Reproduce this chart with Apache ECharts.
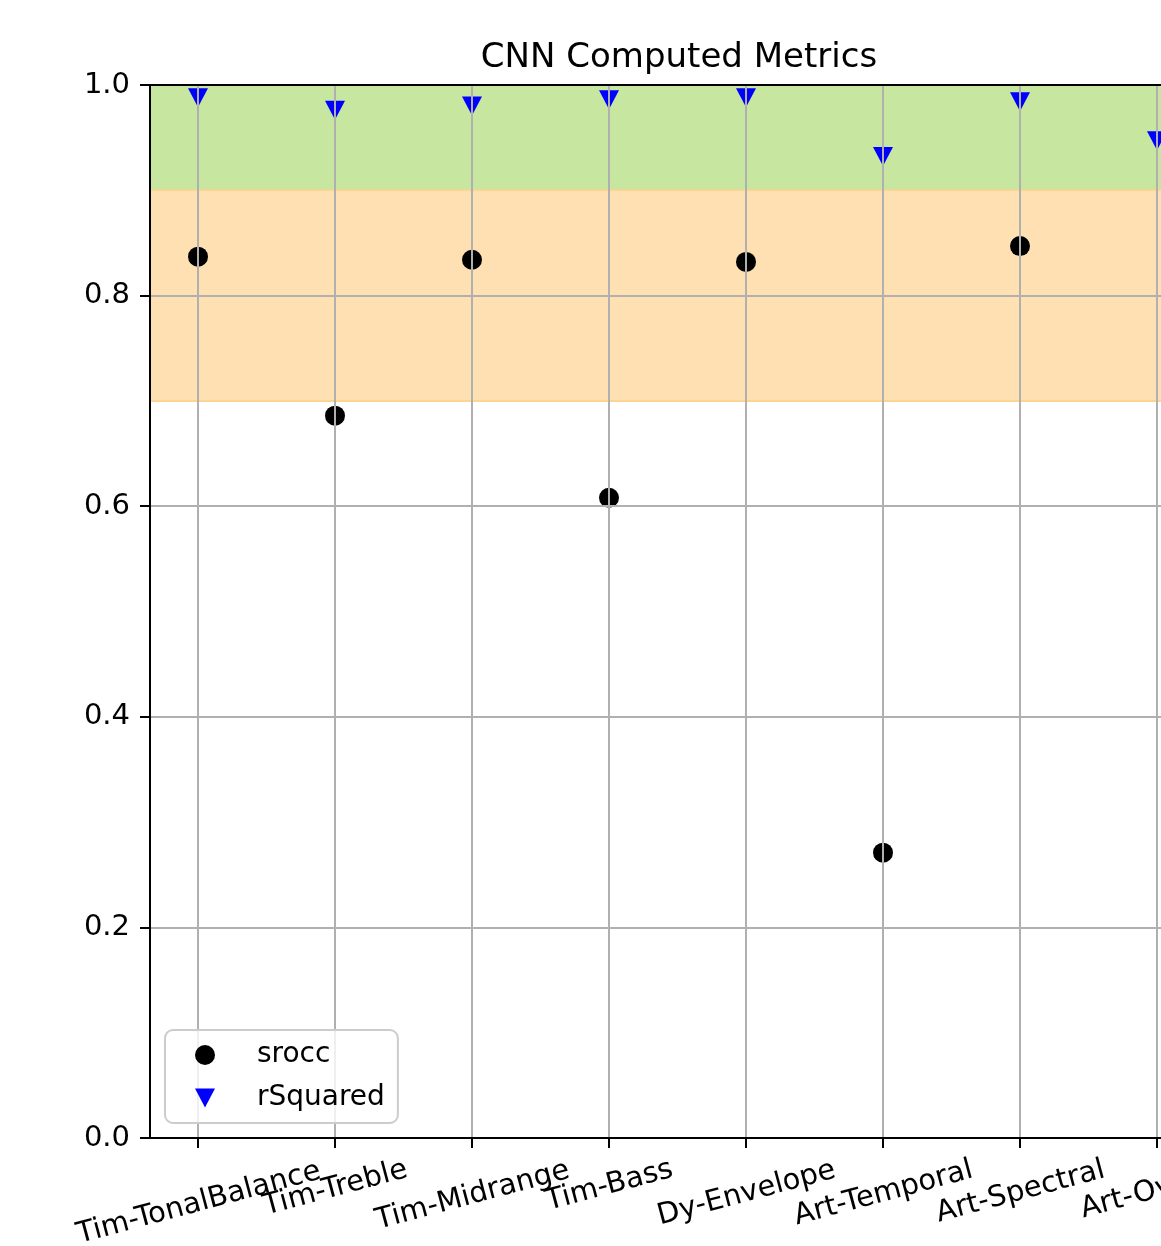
<!DOCTYPE html>
<html>
<head>
<meta charset="utf-8">
<title>CNN Computed Metrics</title>
<script src="https://cdn.jsdelivr.net/npm/echarts@6/dist/echarts.min.js"></script>
<style>
  html, body { margin: 0; padding: 0; overflow: hidden; background: #ffffff; }
  #chart { width: 1260px; height: 1246px; }
</style>
</head>
<body>
<div id="chart"></div>
<script>
// Metric categories along the x axis
const categories = [
  'Tim-TonalBalance', 'Tim-Treble', 'Tim-Midrange', 'Tim-Bass',
  'Dy-Envelope', 'Art-Temporal', 'Art-Spectral', 'Art-Overall'
];
// Spearman rank correlation per metric (last one not available)
const sroccValues = [0.837, 0.686, 0.834, 0.608, 0.832, 0.271, 0.847, null];
// Coefficient of determination per metric
const rSquaredValues = [0.988, 0.976, 0.980, 0.986, 0.988, 0.932, 0.984, 0.947];
// Quality bands shaded behind the points
const goodBand = [0.9, 1.0];
const fairBand = [0.7, 0.9];

const FONT = '"DejaVu Sans", "Liberation Sans", sans-serif';
const LABEL_SIZE = 29;
const LABEL_LINE = 33;
const ROT = 15;
const DOWN_TRIANGLE = 'path://M0,0 L20,0 L10,19 Z';

// Rotated x labels are centred under their ticks with the top of the
// rotated box just below the axis: longer labels rise higher at their
// right end, so they are pushed down in proportion to their width.
const measureCtx = document.createElement('canvas').getContext('2d');
measureCtx.font = LABEL_SIZE + 'px ' + FONT;
const sinR = Math.sin(ROT * Math.PI / 180);
const cosR = Math.cos(ROT * Math.PI / 180);
const richLabels = {};
categories.forEach(function (name, i) {
  const w = measureCtx.measureText(name).width;
  const s = (w * sinR / 2 + 16) / (cosR + sinR * sinR / (2 * cosR));
  const q = 2 * s * sinR / cosR;
  richLabels['c' + i] = {
    fontSize: LABEL_SIZE,
    fontFamily: FONT,
    color: '#000000',
    lineHeight: LABEL_LINE,
    padding: [0.28 * w, q, 0, 0]
  };
});

const chart = echarts.init(document.getElementById('chart'), null, { renderer: 'canvas' });

// Outer grid: frame, shaded bands, y axis and horizontal grid lines.
// Inner grid: categories placed with a margin inside the frame.
const frameGrid = { left: 150, right: 55, top: 85, bottom: 108, outerBoundsMode: 'none' };
const pointGrid = { left: 198, right: 103, top: 85, bottom: 108, outerBoundsMode: 'none' };

const spine = { show: true, onZero: false, lineStyle: { color: '#000000', width: 2 } };

chart.setOption({
  animation: false,
  backgroundColor: '#ffffff',
  title: {
    text: 'CNN Computed Metrics',
    left: 674,
    top: 36,
    textAlign: 'center',
    textStyle: { fontFamily: FONT, fontSize: 34, fontWeight: 'normal', color: '#000000' }
  },
  legend: {
    data: [
      { name: 'srocc', icon: 'circle' },
      { name: 'rSquared', icon: DOWN_TRIANGLE }
    ],
    orient: 'vertical',
    left: 165,
    top: 1030,
    itemWidth: 20,
    itemHeight: 20,
    itemGap: 15,
    padding: [11, 13, 11, 30],
    backgroundColor: 'rgba(255,255,255,0.8)',
    borderColor: '#cccccc',
    borderWidth: 2,
    borderRadius: 8,
    z: 20,
    textStyle: {
      fontFamily: FONT, fontSize: 28, color: '#000000',
      lineHeight: 28, padding: [0, 0, 0, 37]
    }
  },
  grid: [frameGrid, pointGrid],
  xAxis: [
    {
      gridIndex: 0, type: 'value', min: 0, max: 1, position: 'bottom', z: 10,
      axisLine: spine, axisTick: { show: false }, axisLabel: { show: false }, splitLine: { show: false }
    },
    {
      gridIndex: 0, type: 'value', min: 0, max: 1, position: 'top', z: 10,
      axisLine: spine, axisTick: { show: false }, axisLabel: { show: false }, splitLine: { show: false }
    },
    {
      gridIndex: 1,
      type: 'category',
      data: categories,
      boundaryGap: false,
      position: 'bottom',
      z: 10,
      axisLine: { show: false },
      axisTick: {
        show: true, interval: 0, length: 10, inside: false,
        lineStyle: { color: '#000000', width: 2 }
      },
      axisLabel: {
        interval: 0,
        rotate: ROT,
        margin: 12,
        align: 'center',
        verticalAlign: 'top',
        formatter: function (v, i) {
          return '{c' + i + '|' + v + '}';
        },
        rich: richLabels
      },
      splitLine: {
        show: true,
        interval: 0,
        lineStyle: { color: '#b0b0b0', width: 2 }
      }
    }
  ],
  yAxis: [
    {
      gridIndex: 0,
      type: 'value',
      min: 0,
      max: 1,
      interval: 0.2,
      position: 'left',
      z: 10,
      axisLine: spine,
      axisTick: { show: true, length: 10, lineStyle: { color: '#000000', width: 2 } },
      axisLabel: {
        margin: 20,
        fontFamily: FONT,
        fontSize: LABEL_SIZE,
        color: '#000000',
        formatter: function (v) { return v.toFixed(1); }
      },
      splitLine: { show: true, lineStyle: { color: '#b0b0b0', width: 2 } }
    },
    {
      gridIndex: 0, type: 'value', min: 0, max: 1, position: 'right', z: 10,
      axisLine: spine, axisTick: { show: false }, axisLabel: { show: false }, splitLine: { show: false }
    },
    {
      gridIndex: 1, type: 'value', min: 0, max: 1, show: false
    }
  ],
  series: [
    {
      name: 'bands',
      type: 'scatter',
      xAxisIndex: 0,
      yAxisIndex: 0,
      data: [],
      silent: true,
      z: 1,
      markArea: {
        silent: true,
        data: [
          [
            { yAxis: goodBand[0], itemStyle: { color: '#c7e6a0', borderColor: '#b8e29a', borderWidth: 2 } },
            { yAxis: goodBand[1] }
          ],
          [
            { yAxis: fairBand[0], itemStyle: { color: '#fee0b2', borderColor: '#fdd592', borderWidth: 2 } },
            { yAxis: fairBand[1] }
          ]
        ]
      }
    },
    {
      name: 'srocc',
      type: 'scatter',
      xAxisIndex: 2,
      yAxisIndex: 2,
      z: 2,
      symbol: 'circle',
      symbolSize: 20,
      itemStyle: { color: '#000000', opacity: 1 },
      data: sroccValues.map(function (v) { return v === null ? '-' : v; })
    },
    {
      name: 'rSquared',
      type: 'scatter',
      xAxisIndex: 2,
      yAxisIndex: 2,
      z: 2,
      symbol: DOWN_TRIANGLE,
      symbolSize: [20, 19],
      itemStyle: { color: '#0000ff', opacity: 1 },
      data: rSquaredValues
    }
  ]
});
</script>
</body>
</html>
